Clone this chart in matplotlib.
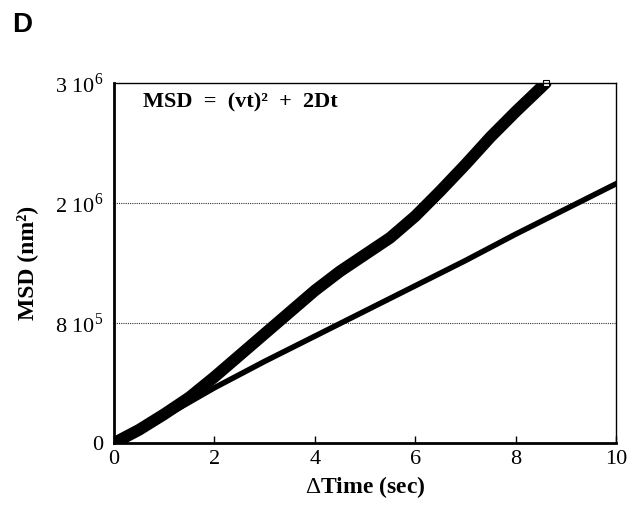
import numpy as np
import matplotlib
matplotlib.use("Agg")
from matplotlib import pyplot as plt

# measured MSD curve (thick) and fit line (thin)
t_data = [0, 0.5, 1.0, 1.5, 2.0, 2.5, 3.0, 3.5, 4.0, 4.5, 5.0, 5.5, 6.0,
          6.5, 7.0, 7.5, 8.0, 8.3, 8.6]
msd_data = [0, 0.11e6, 0.24e6, 0.38e6, 0.55e6, 0.73e6, 0.91e6, 1.09e6,
            1.27e6, 1.43e6, 1.57e6, 1.71e6, 1.89e6, 2.10e6, 2.32e6, 2.55e6,
            2.76e6, 2.88e6, 3.0e6]
t_fit = [0, 0.5, 1.0, 1.5, 2.0, 3, 4, 5, 6, 7, 8, 9, 10]
msd_fit = [0, 0.11e6, 0.22e6, 0.34e6, 0.46e6, 0.68e6, 0.89e6, 1.10e6, 1.31e6,
           1.52e6, 1.74e6, 1.95e6, 2.16e6]

xticks = [0, 2, 4, 6, 8, 10]
yticks = [0, 1e6, 2e6, 3e6]
ylabels = ["0", r"8 10$^5$", r"2 10$^6$", r"3 10$^6$"]

plt.rcParams['font.family'] = 'Liberation Serif'
plt.rcParams['mathtext.fontset'] = 'custom'
plt.rcParams['mathtext.rm'] = 'Liberation Serif'
plt.rcParams['mathtext.bf'] = 'Liberation Serif:bold'

fig = plt.figure(figsize=(6.39, 5.08), dpi=100)
ax = fig.add_axes([114/639, 1-443/508, (616-114)/639, (443-83)/508])

ax.plot(t_data, msd_data, color="black", lw=8.5, solid_capstyle="round",
        solid_joinstyle="round")
ax.plot(t_fit, msd_fit, color="black", lw=4, solid_joinstyle="round")
ax.plot([t_data[-1]], [msd_data[-1]], marker="s", ms=5, mfc="white",
        mec="black", mew=0.8, clip_on=False)

for yg in [1e6, 2e6]:
    ax.axhline(yg, color="#333333", lw=0.8, ls=(0, (1, 1)), zorder=0)

ax.set_xlim(0, 10)
ax.set_ylim(0, 3e6)
ax.set_xticks(xticks)
ax.set_xticklabels([str(v) for v in xticks], fontsize=16)
ax.set_yticks(yticks)
ax.set_yticklabels(ylabels, fontsize=16)
ax.tick_params(axis="x", direction="in", length=5, width=1, pad=5)
ax.tick_params(axis="y", length=0, pad=8)

for s in ["left", "bottom"]:
    ax.spines[s].set_linewidth(2)
for s in ["top", "right"]:
    ax.spines[s].set_linewidth(1)

ax.set_xlabel(r"$\Delta$Time (sec)", fontsize=17, fontweight="bold", labelpad=4)
ax.set_ylabel("MSD (nm²)", fontsize=17, fontweight="bold", labelpad=12)

ax.text(0.58, 2.84e6, "MSD  =  (vt)²  +  2Dt", fontsize=16,
        fontweight="bold", va="center", ha="left")

fig.text(12/639, 1-25/508, "D", fontsize=20, fontweight="bold",
         family="Liberation Sans", va="center", ha="left")

fig.savefig("out.png", dpi=100)
